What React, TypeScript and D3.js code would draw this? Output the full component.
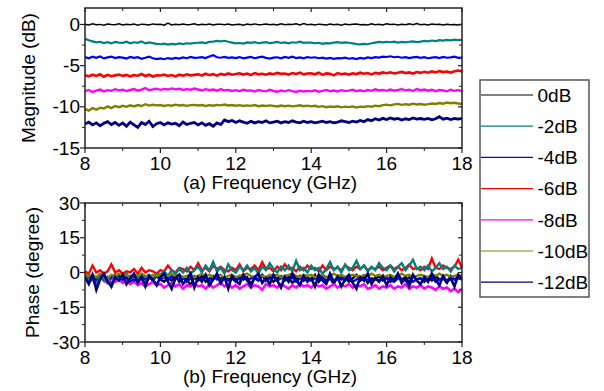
import React from "react";
import * as d3 from "d3";

const seriesNames = ["0dB", "-2dB", "-4dB", "-6dB", "-8dB", "-10dB", "-12dB"];
const seriesColors = ["#000000", "#008080", "#0000ff", "#ff0000", "#ff00ff", "#808000", "#000080"];
const xTicks = [8, 10, 12, 14, 16, 18];
const magTicks = [0, -5, -10, -15];
const phaseTicks = [30, 15, 0, -15, -30];

// Magnitude (dB), 8 to 18 GHz, evenly spaced samples
const mag0 = [0.02,-0.05,0.08,-0.03,0.01,-0.1,0.06,0.0,-0.04,0.09,-0.07,0.03,-0.02,0.05,-0.08,0.04,0.0,-0.06,0.07,-0.01,0.03,-0.09,0.18,-0.05,0.02,-0.03,0.06,-0.04,0.01,0.08,-0.06,0.03,-0.02,0.05,-0.07,0.02,0.04,-0.03,0.06,-0.05,0.01,0.03,-0.08,0.05,-0.02,0.07,-0.04,0.0,0.06,-0.03,0.02,-0.06,0.09,-0.04,0.03,-0.01,0.08,-0.05,0.12,-0.03,0.02,-0.07,0.04,0.0,-0.05,0.06,-0.02,0.03,-0.08,0.05,-0.03,0.02,0.06,-0.04,0.01,-0.06,0.07,-0.02,0.03,-0.05,0.08,-0.01,0.04,-0.06,0.02,-0.03,0.07,-0.04,0.1,-0.02,0.03,-0.07,0.05,-0.01,0.02,-0.05,0.04,-0.03,0.01,-0.06,0.02];
const mag2 = [-1.75,-1.92,-2.05,-2.18,-2.1,-2.25,-2.15,-2.3,-2.12,-2.2,-2.24,-2.1,-2.28,-2.16,-2.22,-2.05,-2.3,-2.18,-2.26,-2.35,-2.4,-2.32,-2.45,-2.36,-2.42,-2.3,-2.38,-2.28,-2.33,-2.25,-2.22,-2.18,-2.26,-2.12,-2.08,-2.0,-2.05,-1.98,-2.1,-2.2,-2.3,-2.25,-2.32,-2.18,-2.24,-2.15,-2.28,-2.2,-2.14,-2.26,-2.2,-2.12,-2.25,-2.18,-2.3,-2.16,-2.22,-2.1,-2.24,-2.19,-2.2,-2.28,-2.22,-2.35,-2.26,-2.3,-2.2,-2.15,-2.24,-2.18,-2.22,-2.3,-2.38,-2.42,-2.35,-2.4,-2.28,-2.2,-2.12,-2.18,-2.1,-2.16,-2.08,-2.2,-2.12,-2.18,-2.1,-2.05,-2.14,-2.08,-2.0,-2.06,-1.95,-2.02,-1.9,-1.96,-1.88,-1.94,-1.85,-1.9,-1.86];
const mag4 = [-3.95,-4.1,-3.92,-4.05,-3.88,-4.12,-4.0,-3.9,-4.08,-3.96,-4.02,-4.14,-3.94,-4.06,-3.98,-4.16,-4.04,-3.9,-4.1,-4.2,-4.12,-4.22,-4.08,-4.18,-4.05,-4.15,-4.0,-4.1,-3.95,-4.06,-4.02,-3.96,-4.08,-3.9,-3.72,-3.98,-4.04,-3.94,-4.06,-4.0,-4.08,-3.96,-4.12,-4.02,-3.95,-4.1,-4.0,-3.92,-4.06,-4.14,-4.02,-3.98,-4.1,-3.94,-4.04,-3.9,-4.08,-4.0,-4.12,-3.96,-4.04,-3.98,-4.1,-4.02,-4.14,-4.06,-4.18,-4.08,-4.12,-4.04,-4.16,-4.1,-4.2,-4.06,-4.14,-4.0,-4.08,-3.96,-4.02,-3.9,-3.95,-3.86,-3.98,-3.92,-4.04,-3.96,-4.08,-4.0,-3.94,-4.06,-3.98,-4.1,-4.02,-3.96,-4.08,-3.94,-4.04,-4.0,-3.92,-4.06,-4.02];
const mag6 = [-6.15,-6.3,-6.1,-6.25,-6.05,-6.35,-6.12,-6.28,-6.18,-6.08,-6.24,-6.12,-6.3,-6.15,-6.22,-6.02,-6.26,-6.1,-6.32,-6.18,-6.2,-6.08,-6.25,-6.14,-6.3,-6.1,-6.22,-6.05,-6.18,-6.12,-6.06,-6.2,-5.98,-6.15,-6.04,-6.22,-6.0,-6.12,-5.95,-6.1,-6.02,-5.92,-6.08,-5.96,-6.14,-5.9,-6.05,-5.98,-6.1,-5.94,-6.04,-5.88,-6.0,-5.95,-6.1,-5.9,-6.02,-5.84,-6.06,-5.96,-5.92,-6.05,-5.86,-6.12,-5.94,-6.0,-6.18,-5.9,-6.04,-5.95,-6.08,-5.92,-6.02,-5.86,-5.98,-5.9,-6.06,-5.88,-5.96,-5.82,-5.92,-5.8,-5.95,-5.85,-5.76,-5.9,-5.82,-5.96,-5.78,-5.88,-5.74,-5.86,-5.7,-5.82,-5.66,-5.78,-5.72,-5.84,-5.68,-5.6,-5.7];
const mag8 = [-8.1,-7.95,-8.2,-8.02,-7.9,-8.12,-7.98,-8.06,-7.86,-8.0,-7.92,-8.08,-7.96,-7.85,-8.04,-7.9,-7.72,-7.98,-7.88,-7.8,-7.94,-7.82,-7.9,-7.76,-7.88,-7.8,-7.95,-7.85,-7.92,-7.78,-7.9,-8.02,-7.86,-7.98,-7.9,-8.04,-7.88,-8.0,-7.94,-8.08,-7.98,-8.1,-7.92,-8.05,-8.0,-8.14,-7.96,-8.06,-8.12,-7.94,-8.08,-8.16,-8.02,-8.12,-7.98,-8.1,-8.2,-8.04,-8.14,-8.06,-8.12,-8.0,-8.16,-8.06,-7.95,-8.1,-8.02,-8.14,-7.98,-8.08,-8.04,-7.92,-8.1,-8.0,-8.12,-7.96,-8.06,-7.88,-8.02,-7.94,-8.06,-7.9,-8.04,-7.96,-7.86,-8.0,-7.92,-8.08,-7.84,-7.98,-7.9,-8.04,-7.94,-8.1,-7.96,-8.02,-8.12,-7.92,-8.06,-7.98,-8.1];
const mag10 = [-10.25,-10.45,-10.15,-10.35,-10.1,-10.2,-9.95,-10.15,-9.9,-10.05,-9.88,-10.0,-9.82,-9.95,-9.78,-9.9,-9.68,-9.85,-9.75,-9.82,-9.78,-9.9,-9.8,-9.86,-9.74,-9.84,-9.78,-9.88,-9.8,-9.76,-9.84,-9.78,-9.9,-9.8,-9.86,-9.76,-9.82,-9.72,-9.84,-9.78,-9.86,-9.8,-9.9,-9.82,-9.88,-9.78,-9.92,-9.84,-9.9,-9.82,-9.88,-9.96,-9.84,-9.92,-9.86,-9.94,-9.88,-9.82,-9.92,-9.86,-9.94,-9.88,-10.0,-9.92,-10.04,-9.96,-10.02,-9.94,-10.06,-9.98,-10.04,-9.95,-10.08,-9.98,-10.02,-9.92,-9.98,-9.86,-9.92,-9.8,-9.74,-9.82,-9.7,-9.64,-9.76,-9.68,-9.74,-9.62,-9.72,-9.66,-9.74,-9.68,-9.6,-9.66,-9.54,-9.62,-9.48,-9.56,-9.5,-9.6,-9.66];
const mag12 = [-12.1,-11.85,-12.2,-11.95,-12.3,-12.0,-11.8,-12.15,-11.9,-12.25,-11.95,-12.35,-11.85,-12.2,-12.5,-11.9,-12.15,-11.75,-12.4,-12.05,-11.9,-12.2,-11.95,-12.1,-12.0,-12.3,-11.85,-12.15,-12.0,-11.9,-12.2,-11.95,-12.25,-12.05,-12.35,-11.95,-12.15,-11.6,-11.8,-11.65,-11.9,-11.7,-11.85,-12.0,-11.75,-11.95,-11.8,-11.9,-11.7,-11.95,-11.85,-11.75,-11.95,-11.8,-11.9,-11.7,-11.85,-11.95,-11.75,-11.9,-11.8,-11.95,-11.85,-11.75,-11.9,-11.8,-11.95,-11.85,-11.7,-11.8,-11.9,-11.75,-11.85,-11.65,-11.8,-11.55,-11.7,-11.45,-11.6,-11.4,-11.55,-11.35,-11.5,-11.4,-11.6,-11.45,-11.55,-11.35,-11.5,-11.42,-11.52,-11.4,-11.58,-11.45,-11.2,-11.5,-11.38,-11.55,-11.42,-11.5,-11.4];

// Phase (degree)
const ph0 = [-1,-3,-2,-4,-1.5,-3.5,-2,-5,-2.5,-1,-3,-2,-4.5,-1.5,-3,-2.5,-5,-2,-3.5,-1.5,-3,-4,-2,-3.5,-1,-4,-2.5,-3,-5.5,-2,-3.5,-1.5,-4,-2.5,-3,-1,-4.5,-2,-3,-2.5,-4,-1.5,-3,-2,-5,-2.5,-3.5,-1,-3,-2,-4,-2.5,-1.5,-3.5,-2,-4.5,-3,-1.5,-3.5,-2.5,-3,-1,-4,-2,-3.5,-2.5,-5,-1.5,-3,-2,-4,-2.5,-1,-3.5,-2,-4.5,-2.5,-3,-1.5,-3.5,-2,-4,-2.5,-1,-3,-2,-4.5,-1.5,-3,-2.5,-4,-2,-3.5,-1.5,-3,-2.5,-4.5,-1.5,-3,-2,-2.5];
const ph2 = [-1,-3,-2,-5.5,-1.5,-3.5,-2,-6,-1,-3,-2,-0.5,-3,-1.5,-2.5,-0.5,-2,-1,-3,-0.5,-1,0.5,-1.5,1,-0.5,1.5,0,2,-0.5,1,2.5,0,3,1,4.5,0.5,2,-0.5,3.5,1,0,2.5,1,3,0.5,2,-0.5,2.5,1,4,1.5,0,2.5,1,3,0.5,5,1,2,0,3,1,2,-0.5,1.5,4.5,1,2.5,0,3.5,1,2,5,1.5,3,0.5,2.5,1,4,2,1,3,0.5,2.5,4,1,3,5.5,1.5,2.5,1,3,0.5,2,4,1.5,2.5,0.5,3,1.5,2];
const ph4 = [-1.5,-2.5,-1,-3,-2,-1.5,-3.5,-2,-1,-2.5,-3,-2,-1.5,-3.5,-2.5,-1,-3,-2,-2.5,-1.5,-3,-2,-3.5,-1.5,-2.5,-3,-2,-4,-2.5,-1.5,-3,-2.5,-2,-3.5,-1.5,-3,-2.5,-2,-3.5,-2,-2.5,-3,-1.5,-3.5,-2.5,-2,-3,-1.5,-3.5,-2.5,-2,-3.5,-2.5,-1.5,-3,-2,-4,-2.5,-3,-2,-3.5,-2.5,-3,-2,-4,-2.5,-3.5,-3,-2,-3.5,-2.5,-4,-3,-2,-3.5,-3,-4,-2.5,-3.5,-3,-2.5,-3.5,-4,-2.5,-3,-3.5,-2,-4,-3,-2.5,-3.5,-3,-2,-4,-3,-2.5,-3.5,-2,-3,-2.5,-3];
const ph6 = [0.5,-0.5,3,0,1,-0.5,0.5,3.5,0,1,-0.5,0.5,0,1.5,-0.5,2,0,1,0.5,-0.5,1,0.5,3,1,0,2,1.5,0.5,2.5,1,4,1,2,0.5,3,1.5,2.5,1,0.5,2,1,3.5,0.5,2,1.5,3,1,4.5,1.5,2,0.5,2.5,1,3.5,1.5,2,0.5,2.5,1,3,1.5,2,0.5,3,1,2.5,1.5,2,1,3,2,1,2.5,1.5,3,1,2,1.5,2.5,1,2,3,1.5,2.5,1,2,3.5,1.5,2,1,2.5,1.5,6,2,1.5,3,2,1.5,2.5,5.5,2];
const ph8 = [-2.5,-4,-3,-5,-2,-3.5,-4.5,-2.5,-4,-3,-4.5,-3.5,-5,-4,-5.5,-4.5,-6,-5,-4,-5.5,-5,-6.5,-5.5,-4.5,-6,-5,-7,-5.5,-6,-4.5,-6,-5.5,-7,-5,-6.5,-5.5,-4.5,-6,-5,-6.5,-5.5,-7,-6,-5,-6.5,-5.5,-6,-7.5,-5,-6,-5.5,-6.5,-5,-6,-7,-5.5,-6.5,-5,-6,-5.5,-6.5,-5,-6,-5.5,-7,-6,-5,-6.5,-5.5,-6,-5,-6.5,-5.5,-6,-5,-7,-6.5,-5.5,-7,-6,-6.5,-5.5,-7,-6,-6.5,-5,-7,-6,-6.5,-5.5,-7,-6,-6.5,-7.5,-6,-7,-6.5,-8,-7,-8.5,-7];
const ph10 = [-0.5,-1.5,-1,-2,-0.5,-1.5,-2.5,-1,-1.5,-0.5,-1.5,-1,-2,-1,-1.5,-0.5,-1.5,-2,-1,-1.5,-1,-2,-1.5,-0.5,-1.5,-1,-2,-1.5,-1,-2,-1.5,-0.5,-1.5,-1,-2,-1.5,-1,-2.5,-1.5,-1,-2,-1.5,-1,-0.5,-1.5,-2,-1,-1.5,-2,-1,-1.5,-1,-2,-1.5,-1,-0.5,-1.5,-2,-1,-1.5,-1,-2,-1.5,-1,-2,-1.5,-0.5,-1.5,-1,-2,-1.5,-1,-1.5,-2,-1,-1.5,-0.5,-1.5,-1,-2,-1.5,-1,-2,-1.5,-0.5,-1.5,-1,-2,-1.5,-1,-1.5,-2,-1,-1.5,-0.5,-1.5,-1,-2,-1.5,-1,-1.5];
const ph12 = [-2,-5,-1,-7.5,-3,-0.5,-4,-6,-2,-3.5,-1,-5,-2.5,-0.5,-4.5,-2,-6,-1.5,-3,-5.5,-2,-0.5,-4,-7,-2.5,-1,-5,-3,-0.5,-6.5,-2,-4,-1,-5.5,-3,-0.5,-4.5,-2,-7,-1.5,-3.5,-5,-1,-3,-6,-2,-0.5,-4.5,-2.5,-5,-1,-3.5,-6.5,-2,-4,-0.5,-3,-5.5,-1.5,-4,-2.5,-6,-1,-3.5,-5,-0.5,-4,-2,-6,-3,-1,-4.5,-7,-2,-3.5,-0.5,-5,-2.5,-4,-1.5,-5.5,-2,-3.5,-0.5,-4.5,-2.5,-6,-1,-3.5,-5,-2,-4,-0.5,-3,-5.5,-1.5,-4,-2.5,-6,-1,-3];

const magSeries = [mag0, mag2, mag4, mag6, mag8, mag10, mag12];
const phaseSeries = [ph0, ph2, ph4, ph6, ph8, ph10, ph12];

const W = 604, H = 391;
const X0 = 85, X1 = 462;
const FONT = "'Liberation Sans', Arial, Helvetica, sans-serif";
const FS = 19;

function toPoints(vals: number[]): [number, number][] {
  const n = vals.length;
  return vals.map((v, i) => [8 + (i * 10) / (n - 1), v]);
}

type PanelProps = {
  top: number;
  bottom: number;
  domain: [number, number];
  ticks: number[];
  minorStep: number;
  data: number[][];
  ylabel: string;
  ylabelX: number;
  xlabel: string;
  order: number[];
  widths: number[];
};

function Panel({ top, bottom, domain, ticks, minorStep, data, ylabel, ylabelX, xlabel, order, widths }: PanelProps) {
  const x = d3.scaleLinear().domain([8, 18]).range([X0, X1]);
  const y = d3.scaleLinear().domain(domain).range([bottom, top]);
  const line = d3
    .line<[number, number]>()
    .x((d) => x(d[0]))
    .y((d) => y(d[1]));
  const xMinor = d3.range(9, 18, 2);
  const [lo, hi] = domain;
  const yMinor = d3.range(Math.ceil(lo / minorStep) * minorStep, hi + 1e-9, minorStep).filter(
    (v) => !ticks.some((t) => Math.abs(t - v) < 1e-9)
  );
  const axisCol = "#222";
  const cy = (top + bottom) / 2;
  return (
    <g>
      <defs>
        <clipPath id={`clip-${top}`}>
          <rect x={X0} y={top} width={X1 - X0} height={bottom - top} />
        </clipPath>
      </defs>
      <g clipPath={`url(#clip-${top})`}>
        {order.map((si) => (
          <path
            key={si}
            d={line(toPoints(data[si])) || ""}
            fill="none"
            stroke={seriesColors[si]}
            strokeWidth={widths[si]}
            strokeLinejoin="miter"
          />
        ))}
      </g>
      <rect x={X0} y={top} width={X1 - X0} height={bottom - top} fill="none" stroke={axisCol} strokeWidth={1.5} />
      {xTicks.map((t) => (
        <g key={`xt${t}`}>
          <line x1={x(t)} x2={x(t)} y1={bottom} y2={bottom + 5} stroke={axisCol} strokeWidth={1.2} />
          <line x1={x(t)} x2={x(t)} y1={top} y2={top + 4} stroke={axisCol} strokeWidth={1.2} />
          <text x={x(t)} y={bottom + 21.5} textAnchor="middle" fontSize={FS} fontFamily={FONT} fill="#000">
            {t}
          </text>
        </g>
      ))}
      {xMinor.map((t) => (
        <g key={`xm${t}`}>
          <line x1={x(t)} x2={x(t)} y1={bottom} y2={bottom + 3} stroke={axisCol} strokeWidth={1} />
          <line x1={x(t)} x2={x(t)} y1={top} y2={top + 3} stroke={axisCol} strokeWidth={1} />
        </g>
      ))}
      {ticks.map((t) => (
        <g key={`yt${t}`}>
          <line x1={X0 - 5} x2={X0} y1={y(t)} y2={y(t)} stroke={axisCol} strokeWidth={1.2} />
          <line x1={X1 - 4} x2={X1} y1={y(t)} y2={y(t)} stroke={axisCol} strokeWidth={1.2} />
          <text x={X0 - 5} y={y(t)} dy="0.35em" textAnchor="end" fontSize={FS} fontFamily={FONT} fill="#000">
            {t}
          </text>
        </g>
      ))}
      {yMinor.map((t) => (
        <g key={`ym${t}`}>
          <line x1={X0 - 3} x2={X0} y1={y(t)} y2={y(t)} stroke={axisCol} strokeWidth={1} />
          <line x1={X1 - 3} x2={X1} y1={y(t)} y2={y(t)} stroke={axisCol} strokeWidth={1} />
        </g>
      ))}
      <text
        transform={`translate(${ylabelX},${cy}) rotate(-90)`}
        textAnchor="middle"
        fontSize={FS}
        fontFamily={FONT}
        fill="#000"
      >
        {ylabel}
      </text>
      <text x={270} y={bottom + 40.5} textAnchor="middle" fontSize={FS} fontFamily={FONT} fill="#000">
        {xlabel}
      </text>
    </g>
  );
}

export default function App() {
  const legendTop = 80;
  const step = 31.2;
  return (
    <svg width={W} height={H} style={{ position: "absolute", left: 0, top: 0, background: "#fff" }}>
      <rect x={0} y={0} width={W} height={H} fill="#fff" />
      <Panel
        top={8}
        bottom={148}
        domain={[-15, 2]}
        ticks={magTicks}
        minorStep={2.5}
        data={magSeries}
        ylabel="Magnitude (dB)"
        ylabelX={35}
        xlabel="(a) Frequency (GHz)"
        order={[0, 1, 2, 3, 4, 5, 6]}
        widths={[1.5, 2.2, 2.2, 2.6, 2.4, 2.4, 2.8]}
      />
      <Panel
        top={203}
        bottom={342}
        domain={[-30, 30]}
        ticks={phaseTicks}
        minorStep={7.5}
        data={phaseSeries}
        ylabel="Phase (degree)"
        ylabelX={38.5}
        xlabel="(b) Frequency (GHz)"
        order={[0, 4, 2, 3, 1, 5, 6]}
        widths={[2.4, 2.4, 2.4, 2.4, 2.6, 2.4, 2.6]}
      />
      <rect x={480} y={legendTop} width={109} height={217} fill="#fff" stroke="#555" strokeWidth={1.5} />
      {seriesNames.map((name, i) => {
        const yy = legendTop + 15 + i * step;
        return (
          <g key={name}>
            <line x1={481} x2={533} y1={yy} y2={yy} stroke={seriesColors[i]} strokeWidth={1.2} />
            <text x={537.5} y={yy} dy="0.36em" fontSize={FS} fontFamily={FONT} fill="#000">
              {name}
            </text>
          </g>
        );
      })}
    </svg>
  );
}
